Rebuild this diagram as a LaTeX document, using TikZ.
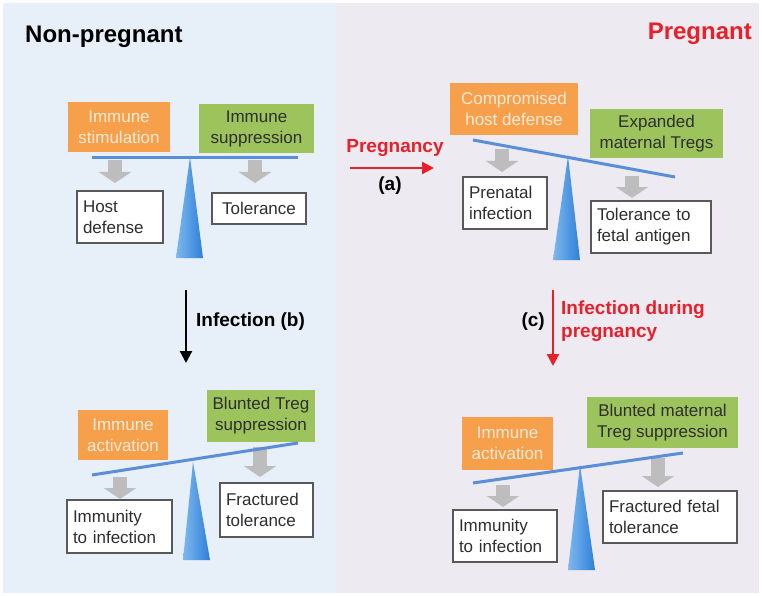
\documentclass[tikz,border=0pt]{standalone}
\usepackage{fontspec}
\setmainfont{Liberation Sans}
\usetikzlibrary{arrows.meta}
\definecolor{bgleft}{HTML}{E7EFF8}
\definecolor{bgright}{HTML}{EDEAF2}
\definecolor{orng}{HTML}{F6A04C}
\definecolor{grn}{HTML}{9DC45C}
\definecolor{beamc}{HTML}{5A8ED6}
\definecolor{fulL}{HTML}{7DB8EE}
\definecolor{fulR}{HTML}{2E7FD9}
\definecolor{garr}{HTML}{BDBDBD}
\definecolor{redc}{HTML}{E8202A}
\definecolor{boxtext}{HTML}{2E2E2E}
\definecolor{otext}{HTML}{FDEBD8}
\tikzset{
  obox/.style={fill=orng, draw=none, inner sep=2pt, align=center, text=otext,
    font=\fontsize{17}{21}\selectfont},
  gbox/.style={fill=grn, draw=none, inner sep=2pt, align=center, text=boxtext,
    font=\fontsize{17}{21}\selectfont},
  wbox/.style={fill=white, draw=black!65, line width=1.2pt, inner sep=5pt, align=left, text=boxtext,
    font=\fontsize{17}{21}\selectfont},
  beam/.style={draw=beamc, line width=3pt},
  garrow/.style={draw=garr, line width=14pt, -{Triangle[width=32pt,length=11pt]}},
  title/.style={font=\fontsize{24}{28}\selectfont\bfseries, inner sep=0pt},
  lbl/.style={font=\fontsize{19}{23}\selectfont\bfseries, inner sep=0pt},
  flow/.style={line width=2.2pt, -{Triangle[width=12pt,length=12pt]}},
}
\newcommand\Fulcrum[3]{% apex name, base left, base right
  \shade[left color=fulL, right color=fulR] (#1) -- (#2) -- (#3) -- cycle;}
\begin{document}
\begin{tikzpicture}[x=1pt,y=-1pt]
\useasboundingbox (0,0) rectangle (762,596);
\fill[white] (0,0) rectangle (762,596);
\fill[bgleft] (3,3) rectangle (336,593);
\fill[bgright] (336,3) rectangle (759,593);

% titles
\node[title, anchor=west] (tnp) at (25,37) {Non-pregnant};
\node[title, anchor=east, text=redc] (tp) at (752,34) {Pregnant};

% ===== top-left =====
\node[obox, minimum width=102, minimum height=50] (o1) at (119,127) {Immune\\stimulation};
\node[gbox, minimum width=115, minimum height=49] (g1) at (256.5,128.5) {Immune\\suppression};
\coordinate (a1s) at (115,160); \coordinate (a1e) at (115,183);
\coordinate (a2s) at (255,160); \coordinate (a2e) at (255,183);
\draw[garrow] (a1s) -- (a1e);
\draw[garrow] (a2s) -- (a2e);
\coordinate (f1a) at (190,157); \coordinate (f1l) at (176,258); \coordinate (f1r) at (203,258);
\Fulcrum{f1a}{f1l}{f1r}
\coordinate (b1l) at (92,158); \coordinate (b1r) at (298,158);
\draw[beam] (b1l) -- (b1r);
\node[wbox, minimum width=86, minimum height=52, text width=74] (w1) at (120,217) {Host\\defense};
\node[wbox, minimum width=94, minimum height=31, align=center] (w2) at (259,208.5) {Tolerance};

% ===== top-right =====
\node[obox, minimum width=128, minimum height=52] (o2) at (514,109) {Compromised\\host defense};
\node[gbox, minimum width=133, minimum height=49] (g2) at (656.5,133.5) {Expanded\\maternal Tregs};
\coordinate (a3s) at (502,149); \coordinate (a3e) at (502,172);
\coordinate (a4s) at (632,176); \coordinate (a4e) at (632,198);
\draw[garrow] (a3s) -- (a3e);
\draw[garrow] (a4s) -- (a4e);
\coordinate (f2a) at (568,156); \coordinate (f2l) at (553,260); \coordinate (f2r) at (580,260);
\Fulcrum{f2a}{f2l}{f2r}
\coordinate (b2l) at (473,140); \coordinate (b2r) at (675,177);
\draw[beam] (b2l) -- (b2r);
\node[wbox, minimum width=84, minimum height=52, text width=72] (w3) at (505,203) {Prenatal\\infection};
\node[wbox, minimum width=120, minimum height=52, text width=108] (w4) at (651,227) {Tolerance to\\fetal antigen};

% pregnancy arrow (a)
\node[lbl, text=redc] (lp) at (395,148) {Pregnancy};
\coordinate (pa1) at (350,168); \coordinate (pa2) at (434,168);
\draw[flow, draw=redc, fill=redc] (pa1) -- (pa2);
\node[lbl] (la) at (390,186) {(a)};

% infection arrow (b)
\coordinate (ib1) at (186,290); \coordinate (ib2) at (186,363);
\draw[flow, draw=black, fill=black] (ib1) -- (ib2);
\node[lbl, anchor=west] (lb) at (196,322) {Infection (b)};

% infection during pregnancy arrow (c)
\coordinate (ic1) at (553,290); \coordinate (ic2) at (553,366);
\draw[flow, draw=redc, fill=redc] (ic1) -- (ic2);
\node[lbl, anchor=east] (lc) at (545,322) {(c)};
\node[lbl, anchor=west, align=left, text=redc, font=\fontsize{19}{23}\selectfont\bfseries] (lcd) at (561,321) {Infection during\\pregnancy};

% ===== bottom-left =====
\node[obox, minimum width=90, minimum height=50] (o3) at (123,435) {Immune\\activation};
\node[gbox, minimum width=108, minimum height=52] (g3) at (261,416) {Blunted Treg\\suppression};
\coordinate (a5s) at (120,477); \coordinate (a5e) at (120,499);
\coordinate (a6s) at (260,447); \coordinate (a6e) at (260,477);
\draw[garrow] (a5s) -- (a5e);
\draw[garrow] (a6s) -- (a6e);
\coordinate (f3a) at (193,462); \coordinate (f3l) at (183,560); \coordinate (f3r) at (210,560);
\Fulcrum{f3a}{f3l}{f3r}
\coordinate (b3l) at (92,475); \coordinate (b3r) at (298,443);
\draw[beam] (b3l) -- (b3r);
\node[wbox, minimum width=105, minimum height=53, text width=93] (w5) at (119.5,526.5) {Immunity\\to infection};
\node[wbox, minimum width=93, minimum height=54, text width=81] (w6) at (266.5,510) {Fractured\\tolerance};

% ===== bottom-right =====
\node[obox, minimum width=91, minimum height=53] (o4) at (507.5,443.5) {Immune\\activation};
\node[gbox, minimum width=151, minimum height=51] (g4) at (662.5,422.5) {Blunted maternal\\Treg suppression};
\coordinate (a7s) at (503,485); \coordinate (a7e) at (503,507);
\coordinate (a8s) at (658,458); \coordinate (a8e) at (658,487);
\draw[garrow] (a7s) -- (a7e);
\draw[garrow] (a8s) -- (a8e);
\coordinate (f4a) at (580,465); \coordinate (f4l) at (568,570); \coordinate (f4r) at (595,570);
\Fulcrum{f4a}{f4l}{f4r}
\coordinate (b4l) at (473,483); \coordinate (b4r) at (683,453);
\draw[beam] (b4l) -- (b4r);
\node[wbox, minimum width=104, minimum height=52, text width=92] (w7) at (505,536) {Immunity\\to infection};
\node[wbox, minimum width=134, minimum height=52, text width=122] (w8) at (670,517) {Fractured fetal\\tolerance};
\end{tikzpicture}
\end{document}
